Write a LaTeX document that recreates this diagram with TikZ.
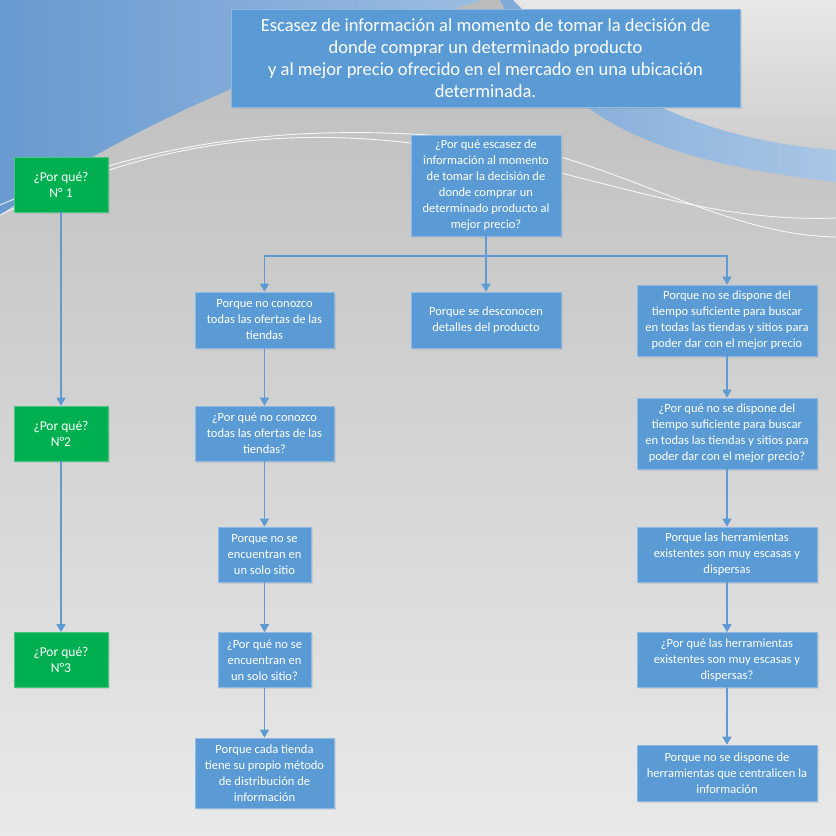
\documentclass[tikz,border=0pt]{standalone}
\usepackage{fontspec}
\setmainfont{Carlito}
\usepackage{tikz}
\usetikzlibrary{arrows.meta, shadows}
\usepackage{xcolor}

\definecolor{boxblue}{HTML}{5B9BD5}
\definecolor{boxedge}{HTML}{8DB9E4}
\definecolor{whygreen}{HTML}{00B050}
\definecolor{whyedge}{HTML}{4CC484}
\definecolor{linkblue}{HTML}{5F9BD3}
\definecolor{bgtop}{HTML}{BCBCBC}
\definecolor{bgbottom}{HTML}{E9E9E9}
\definecolor{skyleft}{HTML}{6899D0}
\definecolor{skyright}{HTML}{9CBDE1}
\definecolor{bandleft}{HTML}{7EA9D8}
\definecolor{bandright}{HTML}{A9C6E5}
\definecolor{lighttop}{HTML}{E8E8E8}
\definecolor{lightbottom}{HTML}{CECECE}

\tikzset{
    box/.style={rectangle, fill=boxblue, draw=boxedge, line width=0.6pt,
        text=white, align=center, inner sep=0pt,
        font=\fontsize{12.5}{16}\selectfont,
        drop shadow={opacity=0.2, shadow xshift=1.5pt, shadow yshift=-1.5pt}},
    why/.style={box, fill=whygreen, draw=whyedge,
        font=\fontsize{13.5}{16}\selectfont,
        minimum width=94pt, minimum height=55pt},
    narrow/.style={box, minimum width=93pt, minimum height=55pt},
    mid/.style={box, minimum width=139pt},
    wide/.style={box, minimum width=150pt},
    wider/.style={box, minimum width=180pt},
    link/.style={draw=linkblue, line width=1.2pt,
        -{Triangle[width=9pt,length=8pt]}},
}

\begin{document}
\begin{tikzpicture}[x=1pt, y=-1pt, line cap=round]

    % Background
    \useasboundingbox (0,0) rectangle (836,836);
    \shade[top color=bgtop, bottom color=bgbottom] (0,0) rectangle (836,836);
    \shade[left color=skyleft, right color=skyright]
        (0,0) -- (483,0) .. controls (330,45) and (150,110) .. (0,215) -- cycle;
    \shade[top color=lighttop, bottom color=lightbottom]
        (513,0) -- (836,0) -- (836,150) .. controls (700,140) and (600,90) .. (513,0) -- cycle;
    \shade[left color=bandleft, right color=bandright]
        (500,0) -- (513,0) .. controls (600,90) and (700,140) .. (836,150)
        -- (836,182) .. controls (650,160) and (560,120) .. (500,0) -- cycle;
    \draw[white, line width=0.9pt, opacity=0.85]
        (0,205) .. controls (150,140) and (300,120) .. (486,140)
        .. controls (620,160) and (720,235) .. (836,237);
    \draw[white, line width=0.9pt, opacity=0.85]
        (0,215) .. controls (150,140) and (300,118) .. (486,155)
        .. controls (640,190) and (720,222) .. (836,218);

    % Problem
    \node[box, minimum width=509pt, minimum height=98pt,
          font=\fontsize{18.5}{22}\selectfont] (problem) at (485.5,58)
        {Escasez de información al momento de tomar la decisión de\\
         donde comprar un determinado producto\\
         y al mejor precio ofrecido en el mercado en una ubicación\\
         determinada.};

    % Levels
    \node[why] (why1) at (61,184.5) {¿Por qué?\\ N° 1};
    \node[why] (why2) at (61,433.5) {¿Por qué?\\ N°2};
    \node[why] (why3) at (61,660) {¿Por qué?\\ N°3};

    % Root question
    \node[wide, minimum height=101pt] (root) at (486,185.5)
        {¿Por qué escasez de\\ información al momento\\ de tomar la decisión de\\
         donde comprar un\\ determinado producto al\\ mejor precio?};
    \coordinate (split) at (486,256);

    % Left branch
    \node[mid, minimum height=56pt] (ofertas) at (264.5,320)
        {Porque no conozco\\ todas las ofertas de las\\ tiendas};
    \node[mid, minimum height=55pt] (ofertasq) at (264.5,433.5)
        {¿Por qué no conozco\\ todas las ofertas de las\\ tiendas?};
    \node[narrow] (sitio) at (264.5,554.5)
        {Porque no se\\ encuentran en\\ un solo sitio};
    \node[narrow] (sitioq) at (264.5,660)
        {¿Por qué no se\\ encuentran en\\ un solo sitio?};
    \node[mid, minimum height=70pt] (metodo) at (264.5,773)
        {Porque cada tienda\\ tiene su propio método\\ de distribución de\\ información};

    % Middle branch
    \node[wide, minimum height=56pt] (detalles) at (486,320)
        {Porque se desconocen\\ detalles del producto};

    % Right branch
    \node[wider, minimum height=71pt] (tiempo) at (727,320.5)
        {Porque no se dispone del\\ tiempo suficiente para buscar\\
         en todas las tiendas y sitios para\\ poder dar con el mejor precio};
    \node[wider, minimum height=71pt] (tiempoq) at (727,433.5)
        {¿Por qué no se dispone del\\ tiempo suficiente para buscar\\
         en todas las tiendas y sitios para\\ poder dar con el mejor precio?};
    \node[wider, minimum height=55pt] (escasas) at (727,554.5)
        {Porque las herramientas\\ existentes son muy escasas y\\ dispersas};
    \node[wider, minimum height=55pt] (escasasq) at (727,660)
        {¿Por qué las herramientas\\ existentes son muy escasas y\\ dispersas?};
    \node[wider, minimum height=56pt] (central) at (727,773)
        {Porque no se dispone de\\ herramientas que centralicen la\\ información};

    % Connectors
    \draw[link] (why1) -- (why2);
    \draw[link] (why2) -- (why3);
    \draw[draw=linkblue, line width=1.2pt] (root) -- (split);
    \draw[link] (split) -| (ofertas);
    \draw[link] (split) -- (detalles);
    \draw[link] (split) -| (tiempo);
    \draw[link] (ofertas) -- (ofertasq);
    \draw[link] (ofertasq) -- (sitio);
    \draw[link] (sitio) -- (sitioq);
    \draw[link] (sitioq) -- (metodo);
    \draw[link] (tiempo) -- (tiempoq);
    \draw[link] (tiempoq) -- (escasas);
    \draw[link] (escasas) -- (escasasq);
    \draw[link] (escasasq) -- (central);
\end{tikzpicture}
\end{document}
